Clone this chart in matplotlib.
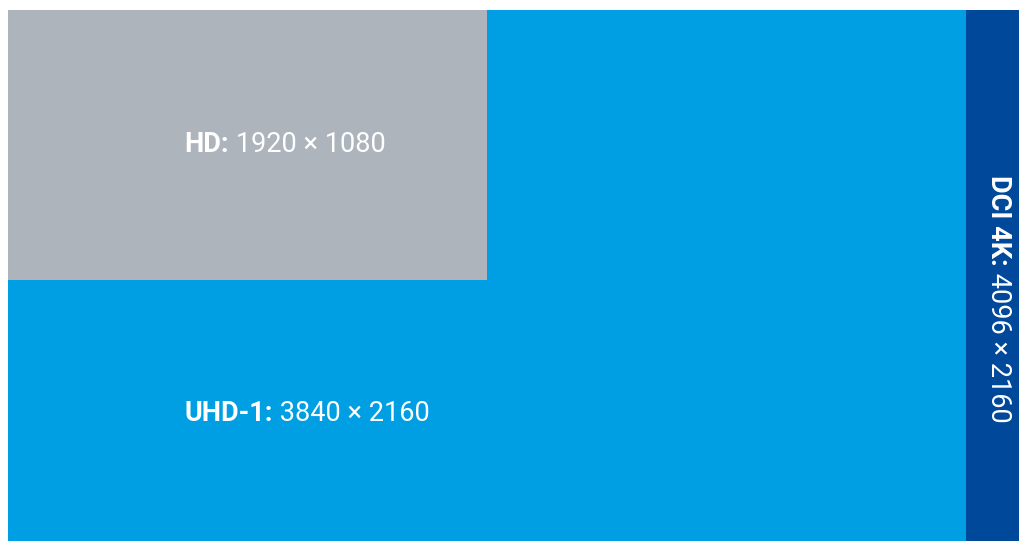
import matplotlib
matplotlib.use("Agg")
import matplotlib.pyplot as plt

# Resolutions (pixels), drawn largest first so the smaller ones sit on top
names = ["DCI 4K", "UHD-1", "HD"]
widths = [4096, 3840, 1920]
heights = [2160, 2160, 1080]
colors = ["#00489A", "#009EE2", "#ADB4BC"]

plt.rcParams['font.family'] = ['Roboto', 'DejaVu Sans']

fig = plt.figure(figsize=(10.19, 5.41), dpi=100)
ax = fig.add_axes([8 / 1019, 0, 1011 / 1019, 531 / 541])

for w, h, c in zip(widths, heights, colors):
    ax.bar(0, h, width=w, bottom=0, align='edge', color=c, linewidth=0)

ax.set_xlim(0, 4052)
ax.set_ylim(2124, 0)
ax.axis('off')

fs = 19.5

def label(x, y, name, w, h, rotation=0):
    bold = ax.text(x, y, name + ":", fontsize=fs, fontweight='bold', color='white',
                   ha='left' if rotation == 0 else 'center',
                   va='baseline' if rotation == 0 else 'top', rotation=rotation)
    if rotation == 0:
        ax.annotate(f" {w} \u00d7 {h}", xy=(1, 0), xycoords=bold, fontsize=fs,
                    color='white', ha='left', va='bottom')
    else:
        ax.annotate(f" {w} \u00d7 {h}", xy=(0.5, 0), xycoords=bold, fontsize=fs,
                    color='white', ha='center', va='top', rotation=rotation)

label(708, 568, names[2], widths[2], heights[2])
label(708, 1644, names[1], widths[1], heights[1])
label(3968, 660, names[0], widths[0], heights[0], rotation=-90)

fig.savefig("out.png", dpi=100)
